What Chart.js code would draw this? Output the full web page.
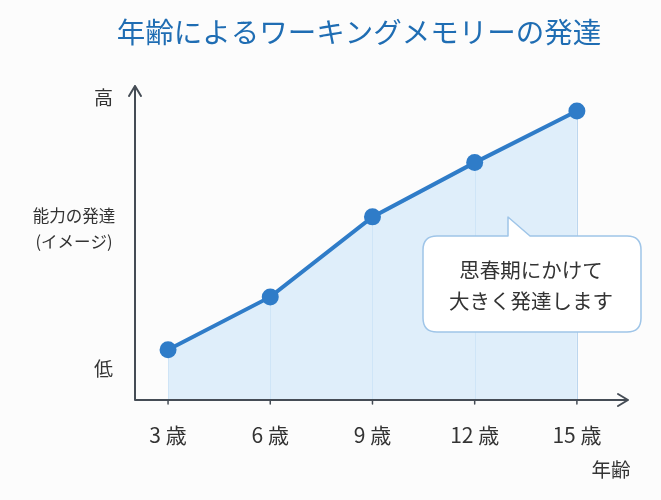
<!DOCTYPE html>
<html>
<head>
<meta charset="utf-8">
<script src="https://cdn.jsdelivr.net/npm/chart.js@4"></script>
<style>
  html, body { margin: 0; padding: 0; background: #fcfcfc; }
  #wrap { width: 661px; height: 500px; }
</style>
</head>
<body>
<div id="wrap"><canvas id="wmchart"></canvas></div>
<script>
// data (ability is an "image" scale, 0 = 低, 100 = 高)
const ages = [3, 6, 9, 12, 15];
const ageLabels = ['3 歳', '6 歳', '9 歳', '12 歳', '15 歳'];
const ability = [7, 26.5, 56, 76, 95];
const levelTicks = [0, 100];
const levelLabels = { 0: '低', 100: '高' };

const chartTitle = '年齢によるワーキングメモリーの発達';
const yTitle = ['能力の発達', '(イメージ)'];
const xTitle = '年齢';
const calloutLines = ['思春期にかけて', '大きく発達します'];

const FONT = '"Noto Sans CJK JP", "Noto Sans", sans-serif';
const BLUE = '#2f7cc8';
const AXIS = '#454c55';

// axes with arrow heads, drop lines, extra labels and the speech bubble
const decorations = {
  id: 'decorations',
  beforeDatasetsDraw(chart) {
    const ctx = chart.ctx;
    const meta = chart.getDatasetMeta(0);
    const bottom = chart.scales.y.getPixelForValue(chart.scales.y.min);
    ctx.save();
    ctx.strokeStyle = '#bcd6ee';
    ctx.lineWidth = 1;
    meta.data.forEach(p => {
      ctx.beginPath();
      ctx.moveTo(Math.round(p.x) + 0.5, p.y);
      ctx.lineTo(Math.round(p.x) + 0.5, bottom);
      ctx.stroke();
    });
    ctx.restore();
  },
  afterDatasetsDraw(chart) {
    const ctx = chart.ctx;
    const area = chart.chartArea;
    const x0 = area.left, y0 = area.bottom;
    ctx.save();

    // axes
    ctx.strokeStyle = AXIS;
    ctx.lineWidth = 2;
    ctx.lineCap = 'round';
    ctx.lineJoin = 'round';
    ctx.beginPath();
    ctx.moveTo(x0, y0);
    ctx.lineTo(x0, area.top - 2);
    ctx.moveTo(x0 - 6, area.top + 8);
    ctx.lineTo(x0, area.top - 2);
    ctx.lineTo(x0 + 6, area.top + 8);
    ctx.moveTo(x0, y0);
    ctx.lineTo(area.right, y0);
    ctx.moveTo(area.right - 10, y0 - 6);
    ctx.lineTo(area.right, y0);
    ctx.lineTo(area.right - 10, y0 + 6);
    ctx.stroke();

    // small tick marks under the x axis
    ctx.lineWidth = 1.5;
    chart.getDatasetMeta(0).data.forEach(p => {
      ctx.beginPath();
      ctx.moveTo(p.x, y0);
      ctx.lineTo(p.x, y0 + 4);
      ctx.stroke();
    });

    // title
    ctx.fillStyle = '#1f6db3';
    ctx.font = '28.5px ' + FONT;
    ctx.textAlign = 'center';
    ctx.textBaseline = 'middle';
    ctx.fillText(chartTitle, 359, 32);

    // axis titles
    ctx.fillStyle = '#333';
    ctx.font = '16.5px ' + FONT;
    ctx.fillText(yTitle[0], 74, 216);
    ctx.fillText(yTitle[1], 74, 242);
    ctx.font = '19.5px ' + FONT;
    ctx.fillText(xTitle, 611, 470);

    // speech bubble
    const bx = 423, by = 236, bw = 218, bh = 96, r = 14;
    const tipX = 508, tipY = 217;
    ctx.beginPath();
    ctx.moveTo(bx + r, by);
    ctx.lineTo(tipX, by);
    ctx.lineTo(tipX, tipY);
    ctx.lineTo(tipX + 22, by);
    ctx.lineTo(bx + bw - r, by);
    ctx.quadraticCurveTo(bx + bw, by, bx + bw, by + r);
    ctx.lineTo(bx + bw, by + bh - r);
    ctx.quadraticCurveTo(bx + bw, by + bh, bx + bw - r, by + bh);
    ctx.lineTo(bx + r, by + bh);
    ctx.quadraticCurveTo(bx, by + bh, bx, by + bh - r);
    ctx.lineTo(bx, by + r);
    ctx.quadraticCurveTo(bx, by, bx + r, by);
    ctx.closePath();
    ctx.fillStyle = '#ffffff';
    ctx.fill();
    ctx.strokeStyle = '#9fc5e8';
    ctx.lineWidth = 1.5;
    ctx.stroke();

    ctx.fillStyle = '#333';
    ctx.font = '20.5px ' + FONT;
    ctx.fillText(calloutLines[0], 531, 270);
    ctx.fillText(calloutLines[1], 531, 301);

    ctx.restore();
  }
};

new Chart(document.getElementById('wmchart'), {
  type: 'line',
  data: {
    datasets: [{
      label: 'ワーキングメモリー',
      data: ages.map((a, i) => ({ x: a, y: ability[i] })),
      borderColor: BLUE,
      borderWidth: 4,
      backgroundColor: 'rgba(214, 233, 250, 0.75)',
      fill: 'start',
      pointRadius: 8.5,
      pointBackgroundColor: BLUE,
      pointBorderColor: BLUE,
      pointBorderWidth: 0,
      tension: 0
    }]
  },
  options: {
    responsive: true,
    maintainAspectRatio: false,
    animation: false,
    layout: { padding: { top: 88, right: 33, bottom: 0, left: 0 } },
    plugins: {
      legend: { display: false },
      tooltip: { enabled: false }
    },
    scales: {
      x: {
        type: 'linear',
        min: 2.03,
        max: 16.5,
        afterBuildTicks: scale => { scale.ticks = ages.map(v => ({ value: v })); },
        afterFit: scale => { scale.height = 100; },
        grid: { display: false, drawTicks: false },
        border: { display: false },
        ticks: {
          padding: 22,
          color: '#333',
          font: { family: FONT, size: 21 },
          callback: v => ageLabels[ages.indexOf(v)]
        }
      },
      y: {
        min: -11.5,
        max: 103.5,
        afterBuildTicks: scale => { scale.ticks = levelTicks.map(v => ({ value: v })); },
        afterFit: scale => { scale.width = 135; },
        grid: { display: false, drawTicks: false },
        border: { display: false },
        ticks: {
          padding: 22,
          color: '#333',
          font: { family: FONT, size: 19 },
          callback: v => levelLabels[v]
        }
      }
    }
  },
  plugins: [decorations]
});
</script>
</body>
</html>
